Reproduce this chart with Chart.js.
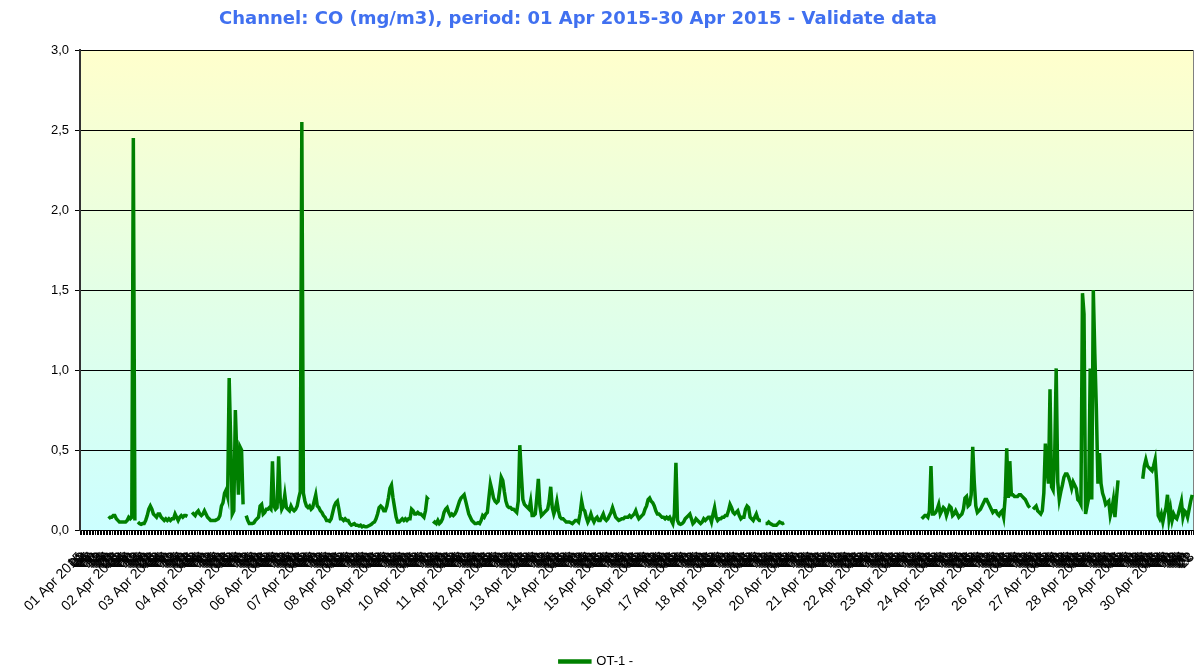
<!DOCTYPE html>
<html>
<head>
<meta charset="utf-8">
<script src="https://cdn.jsdelivr.net/npm/chart.js@4"></script>
<style>
  html, body { margin: 0; padding: 0; background: #fff; }
</style>
</head>
<body>
<canvas id="chart" width="1200" height="671"></canvas>
<script>
const titleText = 'Channel: CO (mg/m3), period: 01 Apr 2015-30 Apr 2015 - Validate data';
const seriesName = 'OT-1 -';

// one label per day (at 00:00) and one per hour after that
const dayLabels = [
  '01 Apr 2015', '02 Apr 2015', '03 Apr 2015', '04 Apr 2015', '05 Apr 2015', '06 Apr 2015',
  '07 Apr 2015', '08 Apr 2015', '09 Apr 2015', '10 Apr 2015', '11 Apr 2015', '12 Apr 2015',
  '13 Apr 2015', '14 Apr 2015', '15 Apr 2015', '16 Apr 2015', '17 Apr 2015', '18 Apr 2015',
  '19 Apr 2015', '20 Apr 2015', '21 Apr 2015', '22 Apr 2015', '23 Apr 2015', '24 Apr 2015',
  '25 Apr 2015', '26 Apr 2015', '27 Apr 2015', '28 Apr 2015', '29 Apr 2015', '30 Apr 2015'
];
const hourLabels = ['01', '02', '03', '04', '05', '06', '07', '08', '09', '10', '11', '12',
  '13', '14', '15', '16', '17', '18', '19', '20', '21', '22', '23'];

const yMin = 0;
const yMax = 3;
const yStep = 0.5;

// hourly CO values (mg/m3), one row per day, null = no data
const co = [
  /* 01 */ null, null, null, null, null, null, null, null, null, null, null, null, null, null, null, null, null, null, 0.07, 0.08, 0.08, 0.09, 0.09, 0.07,
  /* 02 */ 0.06, 0.05, 0.05, 0.05, 0.05, 0.05, 0.06, 0.08, 0.07, 0.08, 2.45, 0.06, null, 0.05, 0.04, 0.035, 0.04, 0.04, 0.06, 0.09, 0.13, 0.15, 0.13, 0.10,
  /* 03 */ 0.09, 0.08, 0.10, 0.10, 0.08, 0.07, 0.06, 0.07, 0.06, 0.07, 0.06, 0.07, 0.07, 0.10, 0.08, 0.06, 0.08, 0.09, 0.08, 0.09, 0.09, 0.085, null, null,
  /* 04 */ 0.11, 0.10, 0.09, 0.11, 0.12, 0.10, 0.09, 0.10, 0.12, 0.10, 0.08, 0.07, 0.06, 0.06, 0.06, 0.06, 0.065, 0.07, 0.09, 0.15, 0.17, 0.23, 0.25, 0.21,
  /* 05 */ 0.95, 0.55, 0.10, 0.12, 0.75, 0.45, 0.22, 0.52, 0.50, 0.16, null, 0.09, 0.06, 0.04, 0.04, 0.04, 0.045, 0.06, 0.07, 0.08, 0.15, 0.16, 0.10, 0.11,
  /* 06 */ 0.13, 0.13, 0.14, 0.13, 0.43, 0.15, 0.13, 0.14, 0.46, 0.20, 0.13, 0.15, 0.22, 0.14, 0.13, 0.12, 0.15, 0.13, 0.12, 0.13, 0.15, 0.20, 0.24, 2.55,
  /* 07 */ 0.23, 0.18, 0.15, 0.14, 0.15, 0.13, 0.14, 0.18, 0.22, 0.15, 0.14, 0.12, 0.11, 0.09, 0.08, 0.06, 0.06, 0.055, 0.07, 0.11, 0.15, 0.17, 0.18, 0.13,
  /* 08 */ 0.07, 0.07, 0.06, 0.07, 0.06, 0.06, 0.04, 0.03, 0.035, 0.04, 0.03, 0.03, 0.025, 0.03, 0.02, 0.025, 0.02, 0.02, 0.025, 0.03, 0.035, 0.045, 0.05, 0.07,
  /* 09 */ 0.10, 0.14, 0.15, 0.14, 0.12, 0.12, 0.15, 0.20, 0.26, 0.28, 0.20, 0.14, 0.08, 0.05, 0.05, 0.06, 0.07, 0.06, 0.07, 0.06, 0.07, 0.07, 0.13, 0.12,
  /* 10 */ 0.10, 0.10, 0.11, 0.10, 0.10, 0.09, 0.08, 0.12, 0.20, 0.19, null, null, 0.04, 0.05, 0.04, 0.06, 0.04, 0.05, 0.07, 0.11, 0.13, 0.14, 0.11, 0.09,
  /* 11 */ 0.10, 0.09, 0.10, 0.12, 0.15, 0.18, 0.20, 0.21, 0.22, 0.18, 0.14, 0.10, 0.08, 0.06, 0.05, 0.04, 0.04, 0.045, 0.04, 0.06, 0.09, 0.08, 0.10, 0.11,
  /* 12 */ 0.20, 0.29, 0.25, 0.20, 0.18, 0.17, 0.18, 0.25, 0.33, 0.31, 0.24, 0.18, 0.15, 0.14, 0.14, 0.13, 0.13, 0.12, 0.11, 0.18, 0.53, 0.35, 0.19, 0.16,
  /* 13 */ 0.15, 0.14, 0.13, 0.18, 0.09, 0.09, 0.10, 0.20, 0.32, 0.15, 0.09, 0.10, 0.11, 0.12, 0.13, 0.18, 0.27, 0.14, 0.10, 0.13, 0.18, 0.12, 0.08, 0.07,
  /* 14 */ 0.07, 0.06, 0.05, 0.05, 0.05, 0.045, 0.04, 0.05, 0.06, 0.06, 0.05, 0.10, 0.18, 0.13, 0.12, 0.08, 0.05, 0.07, 0.10, 0.07, 0.05, 0.07, 0.08, 0.06,
  /* 15 */ 0.06, 0.08, 0.10, 0.07, 0.06, 0.07, 0.09, 0.11, 0.14, 0.11, 0.08, 0.07, 0.06, 0.065, 0.07, 0.07, 0.08, 0.08, 0.08, 0.09, 0.08, 0.09, 0.10, 0.12,
  /* 16 */ 0.09, 0.07, 0.08, 0.09, 0.10, 0.13, 0.15, 0.19, 0.20, 0.18, 0.17, 0.15, 0.12, 0.10, 0.10, 0.09, 0.08, 0.08, 0.07, 0.08, 0.07, 0.08, 0.06, 0.04,
  /* 17 */ 0.10, 0.42, 0.06, 0.04, 0.035, 0.04, 0.05, 0.07, 0.08, 0.09, 0.10, 0.07, 0.04, 0.05, 0.07, 0.06, 0.05, 0.04, 0.05, 0.07, 0.06, 0.07, 0.08, 0.08,
  /* 18 */ 0.05, 0.10, 0.14, 0.08, 0.06, 0.07, 0.07, 0.08, 0.08, 0.09, 0.09, 0.12, 0.16, 0.14, 0.11, 0.10, 0.11, 0.12, 0.09, 0.07, 0.08, 0.08, 0.13, 0.15,
  /* 19 */ 0.14, 0.08, 0.07, 0.06, 0.08, 0.10, 0.07, 0.06, 0.06, null, null, 0.04, 0.04, 0.05, 0.04, 0.035, 0.03, 0.03, 0.03, 0.04, 0.05, 0.045, 0.04, 0.045,
  /* 20 */ null, null, null, null, null, null, null, null, null, null, null, null, null, null, null, null, null, null, null, null, null, null, null, null,
  /* 21 */ null, null, null, null, null, null, null, null, null, null, null, null, null, null, null, null, null, null, null, null, null, null, null, null,
  /* 22 */ null, null, null, null, null, null, null, null, null, null, null, null, null, null, null, null, null, null, null, null, null, null, null, null,
  /* 23 */ null, null, null, null, null, null, null, null, null, null, null, null, null, null, null, null, 0.07, 0.08, 0.09, 0.09, 0.08, 0.12, 0.40, 0.10,
  /* 24 */ 0.10, 0.11, 0.13, 0.16, 0.10, 0.12, 0.14, 0.13, 0.09, 0.12, 0.15, 0.14, 0.09, 0.10, 0.12, 0.10, 0.08, 0.09, 0.10, 0.13, 0.20, 0.21, 0.15, 0.16,
  /* 25 */ 0.22, 0.52, 0.30, 0.15, 0.11, 0.12, 0.13, 0.15, 0.17, 0.19, 0.19, 0.17, 0.15, 0.13, 0.11, 0.12, 0.12, 0.10, 0.09, 0.11, 0.12, 0.08, 0.20, 0.51,
  /* 26 */ 0.20, 0.43, 0.22, 0.22, 0.21, 0.21, 0.21, 0.22, 0.22, 0.21, 0.20, 0.19, 0.17, 0.15, 0.14, null, 0.13, 0.14, 0.15, 0.12, 0.11, 0.10, 0.12, 0.23,
  /* 27 */ 0.54, 0.38, 0.29, 0.88, 0.27, 0.25, 0.45, 1.01, 0.30, 0.19, 0.24, 0.28, 0.33, 0.35, 0.35, 0.33, 0.30, 0.26, 0.30, 0.28, 0.26, 0.19, 0.18, 0.16,
  /* 28 */ 1.48, 1.35, 0.10, 0.15, 0.20, 1.01, 0.19, 1.50, 1.10, 0.75, 0.29, 0.48, 0.29, 0.23, 0.20, 0.16, 0.17, 0.18, 0.09, 0.13, 0.19, 0.08, 0.20, 0.31,
  /* 29 */ null, null, null, null, null, null, null, null, null, null, null, null, null, null, null, 0.32, 0.40, 0.44, 0.40, 0.39, 0.38, 0.37, 0.40, 0.44,
  /* 30 */ 0.30, 0.09, 0.07, 0.10, 0.05, 0.10, 0.14, 0.22, 0.07, 0.13, 0.06, 0.10, 0.08, 0.07, 0.10, 0.14, 0.18, 0.08, 0.12, 0.11, 0.08, 0.13, 0.18, 0.22
];

const labels = [];
dayLabels.forEach(day => {
  labels.push(day);
  hourLabels.forEach(h => labels.push(h));
});

const fontFamily = '"Liberation Sans", Arial, sans-serif';

// pale yellow -> pale cyan plot background, plus the thin right border
const plotBackground = {
  id: 'plotBackground',
  beforeDraw(chart) {
    const { ctx, chartArea: a } = chart;
    const grad = ctx.createLinearGradient(0, a.top, 0, a.bottom);
    grad.addColorStop(0, '#FFFFCC');
    grad.addColorStop(0.5, '#E3FFE6');
    grad.addColorStop(1, '#CCFFFF');
    ctx.save();
    ctx.fillStyle = grad;
    ctx.fillRect(a.left, a.top, a.right - a.left, a.bottom - a.top);
    ctx.strokeStyle = '#808080';
    ctx.lineWidth = 1;
    ctx.beginPath();
    ctx.moveTo(a.right + 0.5, a.top);
    ctx.lineTo(a.right + 0.5, a.bottom);
    ctx.stroke();
    ctx.restore();
  }
};

// title sits a bit left of the canvas centre in the original
const chartTitle = {
  id: 'chartTitle',
  afterDraw(chart) {
    const ctx = chart.ctx;
    ctx.save();
    ctx.font = 'bold 18px "DejaVu Sans", Verdana, sans-serif';
    ctx.fillStyle = '#4070F0';
    ctx.textAlign = 'center';
    ctx.textBaseline = 'middle';
    ctx.fillText(titleText, 578, 19);
    ctx.restore();
  }
};

new Chart(document.getElementById('chart'), {
  type: 'line',
  data: {
    labels: labels,
    datasets: [{
      label: seriesName,
      data: co,
      borderColor: '#008000',
      backgroundColor: '#008000',
      borderWidth: 3.5,
      pointRadius: 0,
      tension: 0,
      spanGaps: false,
      fill: false
    }]
  },
  options: {
    responsive: false,
    animation: false,
    devicePixelRatio: 1,
    layout: { padding: { left: 0, right: 7, top: 50, bottom: 0 } },
    plugins: {
      title: { display: false },
      tooltip: { enabled: false },
      legend: {
        position: 'bottom',
        maxHeight: 16,
        labels: {
          boxWidth: 30,
          boxHeight: 1,
          padding: 0,
          color: '#000',
          font: { family: fontFamily, size: 13 }
        }
      }
    },
    scales: {
      x: {
        offset: true,
        afterFit: scale => {
          scale.height = 125;
          scale.paddingRight = 0;
          scale.paddingLeft = 0;
        },
        grid: {
          drawOnChartArea: false,
          tickLength: 5,
          color: '#000',
          offset: true
        },
        border: { color: '#000', width: 1 },
        ticks: {
          autoSkip: false,
          maxRotation: 45,
          minRotation: 45,
          padding: 14,
          color: '#000',
          font: { family: fontFamily, size: 14 }
        }
      },
      y: {
        min: yMin,
        max: yMax,
        afterFit: scale => { scale.width = 80; },
        grid: {
          color: '#000',
          lineWidth: 1,
          tickLength: 5
        },
        border: { color: '#333', width: 2 },
        ticks: {
          stepSize: yStep,
          padding: 6,
          color: '#000',
          font: { family: fontFamily, size: 13 },
          callback: v => v.toFixed(1).replace('.', ',')
        }
      }
    }
  },
  plugins: [plotBackground, chartTitle]
});
</script>
</body>
</html>
